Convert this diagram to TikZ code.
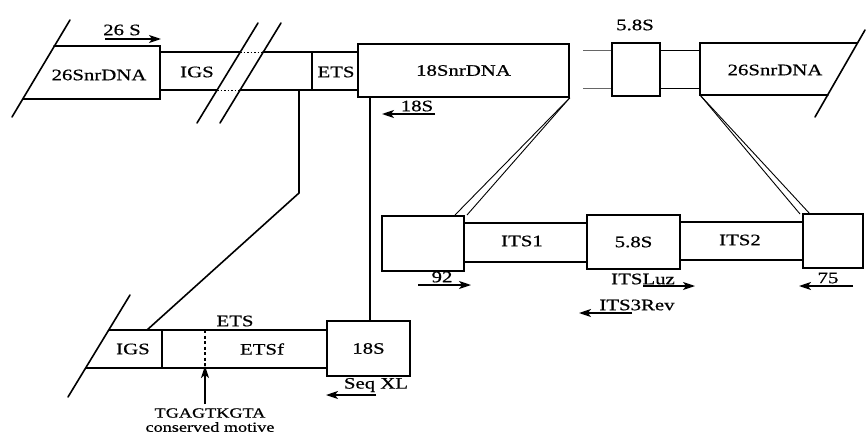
\documentclass[tikz,border=0pt]{standalone}
\usepackage{fontspec}
\setmainfont{Liberation Serif}[FakeStretch=1.3,FakeBold=0.6]
\usetikzlibrary{arrows.meta}
\begin{document}
\begin{tikzpicture}[x=1pt,y=-1pt,
  heavy/.style={line width=1.6pt, line cap=round, line join=miter},
  box/.style={draw, line width=1.6pt, inner sep=0pt, font=\fontsize{16}{18}\selectfont},
  lbl/.style={inner sep=0pt, font=\fontsize{16}{18}\selectfont},
  smalllbl/.style={inner sep=0pt, font=\fontsize{14}{16}\selectfont},
  thinline/.style={line width=0.9pt},
  greyline/.style={line width=0.8pt, black!60},
  dotline/.style={line width=0.9pt, dash pattern=on 1.5pt off 2pt},
  dashline/.style={line width=1.1pt, dash pattern=on 3pt off 2.5pt},
  primer/.style={line width=1.4pt, -{Stealth[length=12pt,width=8pt,inset=3pt]}},
]
\useasboundingbox (0,0) rectangle (866,436);

% ---------------- top row ----------------
% left 26S rDNA (cut by a slash)
\coordinate (L26tl) at (54,46);
\coordinate (L26tr) at (160,46);
\coordinate (L26br) at (160,99);
\coordinate (L26bl) at (23,99);
\coordinate (sl1a) at (12,117);
\coordinate (sl1b) at (70,20);
\draw[heavy] (L26tl) -- (L26tr) -- (L26br) -- (L26bl);
\draw[heavy] (sl1a) -- (sl1b);
\node[lbl] (t26left) at (99,75) {26SnrDNA};

% primer 26 S
\node[lbl] (l26S) at (122,30) {26 S};
\coordinate (p26a) at (105,39);
\coordinate (p26b) at (161,39);
\draw[primer] (p26a) -- (p26b);

% IGS strip with break marks
\coordinate (ig1) at (160,52);
\coordinate (ig2) at (240,52);
\coordinate (ig3) at (263,52);
\coordinate (ig4) at (358,52);
\coordinate (ig5) at (160,90);
\coordinate (ig6) at (217,90);
\coordinate (ig7) at (240,90);
\coordinate (ig8) at (358,90);
\draw[heavy] (ig1) -- (ig2);
\draw[dotline] (ig2) -- (ig3);
\draw[heavy] (ig3) -- (ig4);
\draw[heavy] (ig5) -- (ig6);
\draw[dotline] (ig6) -- (ig7);
\draw[heavy] (ig7) -- (ig8);
\coordinate (brk1a) at (197,123);
\coordinate (brk1b) at (258,23);
\coordinate (brk2a) at (220,123);
\coordinate (brk2b) at (281,23);
\draw[heavy] (brk1a) -- (brk1b);
\draw[heavy] (brk2a) -- (brk2b);
\node[lbl] (tIGS) at (197,72) {IGS};
\coordinate (etsdivT) at (312,52);
\coordinate (etsdivB) at (312,90);
\draw[heavy] (etsdivT) -- (etsdivB);
\node[lbl] (tETS) at (336,72) {ETS};

% 18S rDNA box
\node[box, minimum width=211pt, minimum height=53pt] (s18) at (463.5,70.5) {18SnrDNA};
\node[lbl] (l18S) at (417,106) {18S};
\coordinate (p18a) at (435,114);
\coordinate (p18b) at (382,114);
\draw[primer] (p18a) -- (p18b);

% 5.8S box and thin ITS lines
\coordinate (its1a) at (583,50);
\coordinate (its1b) at (583,88);
\node[box, minimum width=48pt, minimum height=53pt] (s58top) at (636,69.5) {};
\node[lbl] (l58top) at (635,25) {5.8S};
\coordinate (its2a) at (700,50);
\coordinate (its2b) at (700,88);
\draw[greyline] (its1a) -- (its1a -| s58top.west);
\draw[greyline] (its1b) -- (its1b -| s58top.west);
\draw[thinline] (its2a -| s58top.east) -- (its2a);
\draw[thinline] (its2b -| s58top.east) -- (its2b);

% right 26S rDNA (cut by a slash)
\coordinate (R26tl) at (700,43);
\coordinate (R26tr) at (857,43);
\coordinate (R26bl) at (700,95);
\coordinate (R26br) at (828,95);
\coordinate (sl2a) at (815,117);
\coordinate (sl2b) at (865,30);
\draw[heavy] (R26tr) -- (R26tl) -- (R26bl) -- (R26br);
\draw[heavy] (sl2a) -- (sl2b);
\node[lbl] (t26right) at (775,70) {26SnrDNA};

% ---------------- ITS expansion ----------------
\node[box, minimum width=82pt, minimum height=55pt] (itsL) at (423,243.5) {};
\node[box, minimum width=93pt, minimum height=54pt] (its58) at (633.5,242) {5.8S};
\node[box, minimum width=60pt, minimum height=54pt] (itsR) at (833,241) {};
\coordinate (i1t) at (464,223);
\coordinate (i1b) at (464,262);
\coordinate (i2t) at (680,222);
\coordinate (i2b) at (680,260);
\draw[heavy] (i1t) -- (i1t -| its58.west);
\draw[heavy] (i1b) -- (i1b -| its58.west);
\draw[heavy] (i2t) -- (i2t -| itsR.west);
\draw[heavy] (i2b) -- (i2b -| itsR.west);
\node[lbl] (tITS1) at (522,241) {ITS1};
\node[lbl] (tITS2) at (740,240) {ITS2};

% expansion lines
\coordinate (exL1) at (455,215);
\coordinate (exL2) at (467,215);
\coordinate (exR1) at (800,214);
\coordinate (exR2) at (810,214);
\draw[thinline] (s18.south east) -- (exL1);
\draw[thinline] (s18.south east) -- (exL2);
\draw[thinline] (R26bl) -- (exR1);
\draw[thinline] (R26bl) -- (exR2);

% ITS primers
\node[lbl] (l92) at (442,277) {92};
\coordinate (p92a) at (418,285);
\coordinate (p92b) at (471,285);
\draw[primer] (p92a) -- (p92b);
\node[lbl] (lLuz) at (643,279) {ITSLuz};
\coordinate (pLuza) at (643,286);
\coordinate (pLuzb) at (695,286);
\draw[primer] (pLuza) -- (pLuzb);
\node[lbl] (l75) at (828,278) {75};
\coordinate (p75a) at (853,286);
\coordinate (p75b) at (799,286);
\draw[primer] (p75a) -- (p75b);
\node[lbl] (lRev) at (637,305) {ITS3Rev};
\coordinate (pReva) at (632,313);
\coordinate (pRevb) at (579,313);
\draw[primer] (pReva) -- (pRevb);

% ---------------- ETS expansion ----------------
\coordinate (sl3a) at (68,397);
\coordinate (sl3b) at (130,295);
\draw[heavy] (sl3a) -- (sl3b);
\node[box, minimum width=83pt, minimum height=55pt] (s18b) at (368.5,348.5) {18S};
\coordinate (eTl) at (109,330);
\coordinate (eBl) at (86,368);
\draw[heavy] (eTl) -- (eTl -| s18b.west);
\draw[heavy] (eBl) -- (eBl -| s18b.west);
\coordinate (eDivT) at (162,330);
\coordinate (eDivB) at (162,368);
\draw[heavy] (eDivT) -- (eDivB);
\coordinate (motT) at (205,330);
\coordinate (motB) at (205,368);
\draw[dashline] (motT) -- (motB);
\node[lbl] (tIGSb) at (133,349) {IGS};
\node[lbl] (tETSb) at (235,321) {ETS};
\node[lbl] (tETSf) at (262,349) {ETSf};

% connectors from top row to ETS expansion
\coordinate (cA) at (299,90);
\coordinate (cB) at (299,193);
\coordinate (cC) at (147,330);
\draw[heavy] (cA) -- (cB) -- (cC);
\coordinate (cD) at (370,97);
\draw[heavy] (cD) -- (cD |- s18b.north);

% motif arrow and text
\coordinate (motA) at (205,404);
\draw[primer] (motA) -- ([yshift=2pt]motB);
\node[smalllbl] (tMot1) at (210,413) {TGAGTKGTA};
\node[smalllbl] (tMot2) at (210,427) {conserved motive};

% Seq XL primer
\node[lbl] (lSeq) at (376,385) {Seq XL};
\coordinate (pSeqa) at (376,395);
\coordinate (pSeqb) at (326,395);
\draw[primer] (pSeqa) -- (pSeqb);
\end{tikzpicture}
\end{document}
